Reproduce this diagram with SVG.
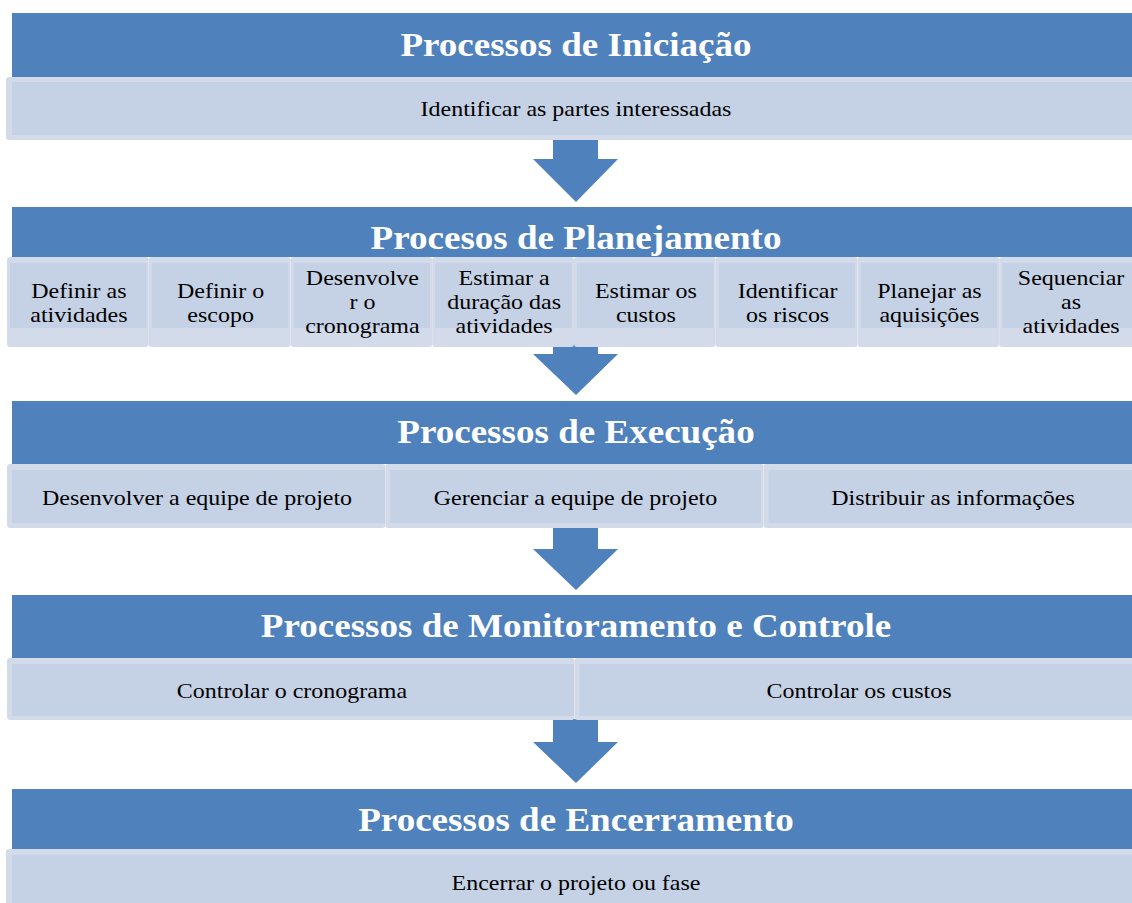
<svg xmlns="http://www.w3.org/2000/svg" width="1132" height="903" viewBox="0 0 1132 903">
<style>
.hdr{fill:#4F81BD}
.out{fill:#D3DBEA}
.in{fill:#C5D1E4}
.arr{fill:#4F81BD}
.title{font-family:"Liberation Serif","Times New Roman",serif;font-weight:bold;font-size:34px;fill:#FFFFFF;text-anchor:middle}
.body{font-family:"Liberation Serif","Times New Roman",serif;font-size:22px;fill:#000000;text-anchor:middle}
text{transform-box:fill-box;transform-origin:center;transform:scaleX(1.09)}
</style>
<rect width="1132" height="903" fill="#FFFFFF"/>
<g id="connectors">
<path class="arr" d="M553,139 H598 V159 H618 L576,202 L533,159 H553 Z"/>
<path class="arr" d="M553,340 H598 V354 H618 L576,395 L533,354 H553 Z"/>
<path class="arr" d="M553,527 H598 V549 H618 L576,590 L533,549 H553 Z"/>
<path class="arr" d="M553,719 H598 V742 H618 L576,783 L533,742 H553 Z"/>
</g>
<g id="iniciacao">
<rect class="hdr" x="12" y="13" width="1130" height="64"/>
<text class="title" x="576" y="56">Processos de Iniciação</text>
</g>
<g id="iniciacao-1">
<rect class="out" x="6" y="77" width="1136" height="63" rx="3"/>
<rect class="in" x="12" y="82" width="1125" height="53"/>
<text class="body" x="576" y="116">Identificar as partes interessadas</text>
</g>
<g id="planejamento">
<rect class="hdr" x="12" y="207" width="1130" height="50"/>
<text class="title" x="576" y="249">Procesos de Planejamento</text>
</g>
<g id="plan-1">
<rect class="out" x="7" y="257" width="141.75" height="90" rx="3"/>
<rect class="in" x="10" y="263" width="136.5" height="65"/>
<text class="body" x="78.9" y="298">Definir as</text>
<text class="body" x="78.9" y="322">atividades</text>
</g>
<g id="plan-2">
<rect class="out" x="148.75" y="257" width="141.75" height="90" rx="3"/>
<rect class="in" x="151.75" y="263" width="136.5" height="65"/>
<text class="body" x="220.6" y="298">Definir o</text>
<text class="body" x="220.6" y="322">escopo</text>
</g>
<g id="plan-3">
<rect class="out" x="290.5" y="257" width="141.75" height="90" rx="3"/>
<rect class="in" x="293.5" y="263" width="136.5" height="65"/>
<text class="body" x="362.4" y="285">Desenvolve</text>
<text class="body" x="362.4" y="309">r o</text>
<text class="body" x="362.4" y="333">cronograma</text>
</g>
<g id="plan-4">
<rect class="out" x="432.25" y="257" width="141.75" height="90" rx="3"/>
<rect class="in" x="435.25" y="263" width="136.5" height="65"/>
<text class="body" x="504.1" y="285">Estimar a</text>
<text class="body" x="504.1" y="309">duração das</text>
<text class="body" x="504.1" y="333">atividades</text>
</g>
<g id="plan-5">
<rect class="out" x="574" y="257" width="141.75" height="90" rx="3"/>
<rect class="in" x="577" y="263" width="136.5" height="65"/>
<text class="body" x="645.9" y="298">Estimar os</text>
<text class="body" x="645.9" y="322">custos</text>
</g>
<g id="plan-6">
<rect class="out" x="715.75" y="257" width="141.75" height="90" rx="3"/>
<rect class="in" x="718.75" y="263" width="136.5" height="65"/>
<text class="body" x="787.6" y="298">Identificar</text>
<text class="body" x="787.6" y="322">os riscos</text>
</g>
<g id="plan-7">
<rect class="out" x="857.5" y="257" width="141.75" height="90" rx="3"/>
<rect class="in" x="860.5" y="263" width="136.5" height="65"/>
<text class="body" x="929.4" y="298">Planejar as</text>
<text class="body" x="929.4" y="322">aquisições</text>
</g>
<g id="plan-8">
<rect class="out" x="999.25" y="257" width="141.75" height="90" rx="3"/>
<rect class="in" x="1002.25" y="263" width="136.5" height="65"/>
<text class="body" x="1071.1" y="285">Sequenciar</text>
<text class="body" x="1071.1" y="309">as</text>
<text class="body" x="1071.1" y="333">atividades</text>
</g>
<g id="execucao">
<rect class="hdr" x="12" y="401" width="1130" height="63"/>
<text class="title" x="576" y="443">Processos de Execução</text>
</g>
<g id="exec-1">
<rect class="out" x="7" y="464" width="378.3" height="64" rx="3"/>
<rect class="in" x="12" y="470" width="373" height="53"/>
<text class="body" x="197" y="505">Desenvolver a equipe de projeto</text>
</g>
<g id="exec-2">
<rect class="out" x="385.3" y="464" width="378.3" height="64" rx="3"/>
<rect class="in" x="390" y="470" width="371" height="53"/>
<text class="body" x="575.5" y="505">Gerenciar a equipe de projeto</text>
</g>
<g id="exec-3">
<rect class="out" x="763.6" y="464" width="378.4" height="64" rx="3"/>
<rect class="in" x="768.5" y="470" width="371" height="53"/>
<text class="body" x="953" y="505">Distribuir as informações</text>
</g>
<g id="monitoramento">
<rect class="hdr" x="12" y="595" width="1130" height="63"/>
<text class="title" x="576" y="637">Processos de Monitoramento e Controle</text>
</g>
<g id="mon-1">
<rect class="out" x="7" y="658" width="567.5" height="62" rx="3"/>
<rect class="in" x="12" y="664" width="562" height="52"/>
<text class="body" x="292" y="698">Controlar o cronograma</text>
</g>
<g id="mon-2">
<rect class="out" x="574.5" y="658" width="567.5" height="62" rx="3"/>
<rect class="in" x="579.5" y="664" width="560" height="52"/>
<text class="body" x="859" y="698">Controlar os custos</text>
</g>
<g id="encerramento">
<rect class="hdr" x="12" y="789" width="1130" height="60"/>
<text class="title" x="576" y="831">Processos de Encerramento</text>
</g>
<g id="enc-1">
<rect class="out" x="6" y="849" width="1136" height="60" rx="3"/>
<rect class="in" x="12" y="855" width="1125" height="54"/>
<text class="body" x="576" y="890">Encerrar o projeto ou fase</text>
</g>
</svg>
